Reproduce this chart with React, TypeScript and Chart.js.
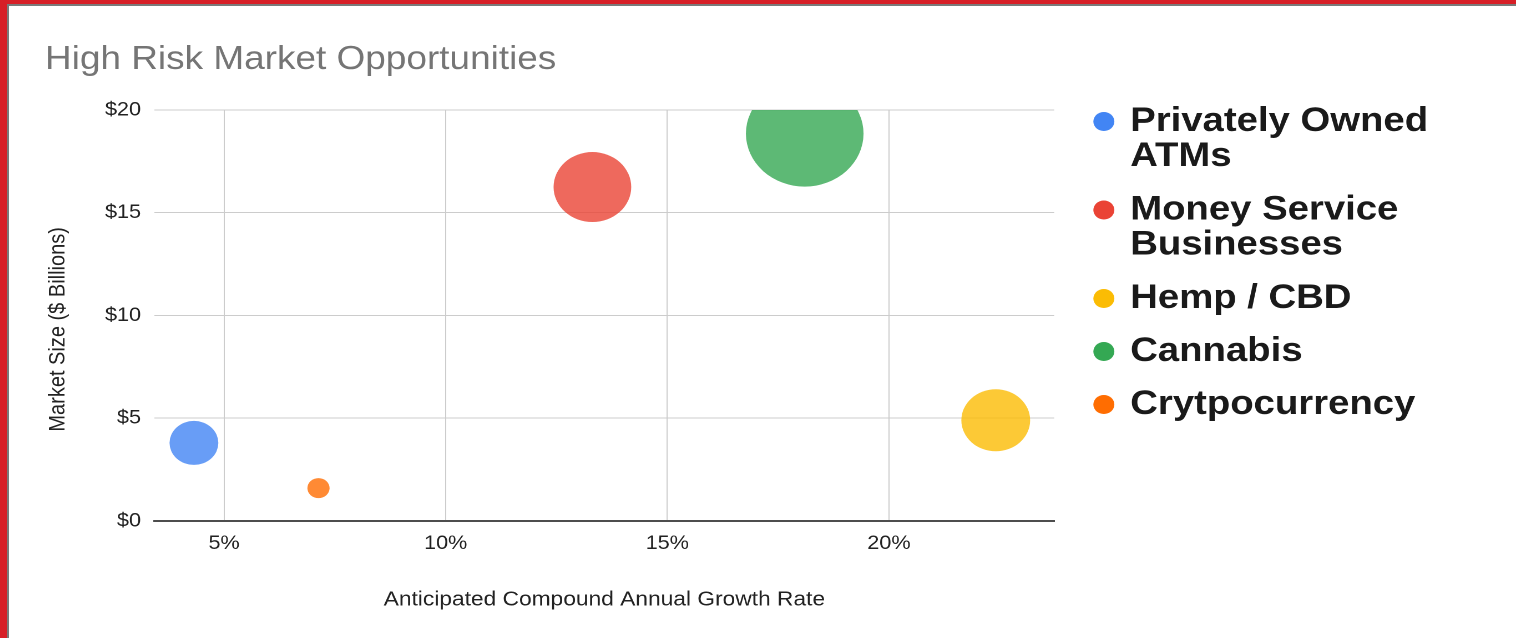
import React, { useEffect, useRef } from 'react';
import { Chart, registerables } from 'chart.js';

Chart.register(...registerables);

// ---- data ----
const seriesNames: (string | string[])[] = [
  ['Privately Owned', 'ATMs'],
  ['Money Service', 'Businesses'],
  'Hemp / CBD',
  'Cannabis',
  'Crytpocurrency',
];
const growthRates = [4.32, 13.31, 22.41, 18.1, 7.13];
const marketSizes = [3.8, 16.25, 4.9, 18.85, 1.6];
const bubbleSizes = [22, 35, 31, 53, 10];
const seriesColors = ['#4285F4', '#EA4335', '#FBBC04', '#34A853', '#FF6D01'];
const xTickValues = [5, 10, 15, 20];
const yTickValues = [0, 5, 10, 15, 20];
const chartTitle = 'High Risk Market Opportunities';
const xAxisTitle = 'Anticipated Compound Annual Growth Rate';
const yAxisTitle = 'Market Size ($ Billions)     ';

const FONT = "'Liberation Sans', Arial, sans-serif";
const CANVAS_W = 1358;
const CANVAS_H = 632;
const LEGEND_FONT = 34.5;
const LEGEND_PAD = 18.5;
const LEGEND_BOX = 13;
const LEGEND_LEFT = 961.6;

export default function App() {
  const canvasRef = useRef<HTMLCanvasElement | null>(null);

  useEffect(() => {
    const canvas = canvasRef.current;
    if (!canvas) return;

    // legend width as Chart.js computes it, so the plot area stays put
    const mctx = document.createElement('canvas').getContext('2d')!;
    mctx.font = `bold ${LEGEND_FONT}px ${FONT}`;
    const longest = seriesNames.map((n) =>
      Array.isArray(n) ? n.reduce((a, b) => (a.length > b.length ? a : b)) : n
    );
    const textW = Math.max(...longest.map((s) => mctx.measureText(s).width));
    const legendW = LEGEND_PAD + LEGEND_BOX + LEGEND_FONT / 2 + textW + 10;
    const padRight = Math.max(0, CANVAS_W - LEGEND_LEFT - legendW);

    const datasets = seriesNames.map((name, i) => ({
      label: name as any,
      data: [{ x: growthRates[i], y: marketSizes[i], r: bubbleSizes[i] }],
      backgroundColor: seriesColors[i] + 'CC',
      borderColor: seriesColors[i] + 'CC',
      borderWidth: 0,
      hoverBorderWidth: 0,
      clip: 0,
    }));

    const chart = new Chart(canvas, {
      type: 'bubble',
      data: { datasets },
      options: {
        animation: false,
        responsive: false,
        devicePixelRatio: 2,
        events: [],
        layout: { padding: { left: 32.4, right: padRight, top: 0, bottom: 0 } },
        plugins: {
          title: {
            display: true,
            text: chartTitle,
            align: 'start',
            color: '#757575',
            font: { family: FONT, size: 33.3, weight: 'normal', lineHeight: 1.2 },
            padding: { top: 33.6, bottom: 30.4 },
          },
          legend: {
            display: true,
            position: 'right',
            align: 'start',
            maxWidth: 1000,
            title: {
              display: true,
              text: ' ',
              font: { size: 1, lineHeight: 1 },
              padding: { top: 78.75, bottom: 0 },
            },
            labels: {
              usePointStyle: true,
              pointStyle: 'circle',
              boxWidth: LEGEND_BOX,
              boxHeight: 13.4,
              padding: LEGEND_PAD,
              color: '#1a1a1a',
              font: { family: FONT, size: LEGEND_FONT, weight: 'bold', lineHeight: '35px' },
              generateLabels: (c: any) =>
                Chart.defaults.plugins.legend.labels.generateLabels(c).map((l: any, i: number) => ({
                  ...l,
                  fillStyle: seriesColors[i],
                  strokeStyle: seriesColors[i],
                  lineWidth: 0,
                })),
            },
          },
          tooltip: { enabled: false },
        },
        scales: {
          x: {
            type: 'linear',
            position: 'bottom',
            min: 3.43,
            max: 23.73,
            afterBuildTicks: (s: any) => {
              s.ticks = xTickValues.map((v) => ({ value: v }));
            },
            afterFit: (s: any) => {
              s.height = 117;
            },
            grid: { color: '#cccccc', lineWidth: 1, drawTicks: false },
            border: { display: true, color: '#4d4d4d', width: 2 },
            ticks: {
              padding: 11,
              color: '#222222',
              font: { family: FONT, size: 19.5 },
              callback: (v: any) => v + '%',
            },
            title: {
              display: true,
              text: xAxisTitle,
              color: '#222222',
              font: { family: FONT, size: 20.5, lineHeight: 1.2 },
              padding: { top: 0, bottom: 25.7 },
            },
          },
          y: {
            type: 'linear',
            position: 'left',
            min: 0,
            max: 20,
            afterBuildTicks: (s: any) => {
              s.ticks = yTickValues.map((v) => ({ value: v }));
            },
            afterFit: (s: any) => {
              s.width = 98.7;
            },
            grid: { color: '#cccccc', lineWidth: 1, drawTicks: false },
            border: { display: false },
            ticks: {
              padding: 12.1,
              color: '#222222',
              font: { family: FONT, size: 19.5 },
              callback: (v: any) => '$' + v,
            },
            title: {
              display: true,
              text: yAxisTitle,
              color: '#222222',
              font: { family: FONT, size: 20, lineHeight: 1.2 },
              padding: { top: 0, bottom: 0 },
            },
          },
          gap: {
            type: 'linear',
            position: 'right',
            display: true,
            grid: { display: false },
            border: { display: false },
            ticks: { display: false },
            afterFit: (s: any) => {
              s.width = 19.7;
            },
          },
        },
      } as any,
    });
    return () => chart.destroy();
  }, []);

  return (
    <div
      style={{
        position: 'fixed',
        left: 0,
        top: 0,
        width: 1516,
        height: 638,
        background: '#d71f27',
        overflow: 'hidden',
      }}
    >
      <div
        style={{
          position: 'absolute',
          left: 7,
          top: 4,
          right: 0,
          bottom: 0,
          background: '#ffffff',
          borderLeft: '2px solid #7a7a7a',
          borderTop: '2px solid #7a7a7a',
        }}
      />
      <canvas
        ref={canvasRef}
        width={CANVAS_W}
        height={CANVAS_H}
        style={{ position: 'absolute', left: 9, top: 6, width: '1507px', height: '632px' }}
      />
    </div>
  );
}
